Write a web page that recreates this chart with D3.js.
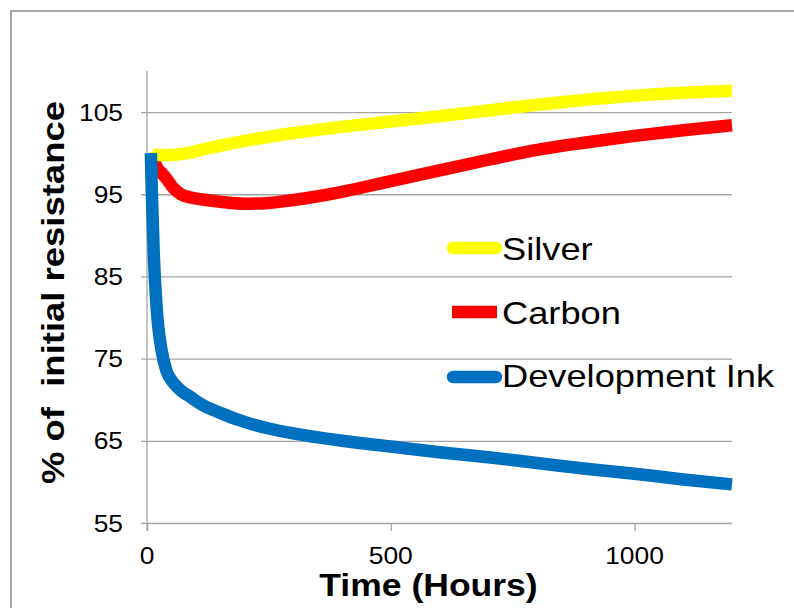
<!DOCTYPE html>
<html>
<head>
<meta charset="utf-8">
<script src="https://cdn.jsdelivr.net/npm/d3@7"></script>
<style>
  html, body { margin: 0; padding: 0; background: #fff; }
  svg { display: block; font-family: "Liberation Sans", Arial, sans-serif; }
</style>
</head>
<body>
<svg id="chart" width="794" height="608"></svg>
<script>
// Resistance drift over time, as % of the initial value
const hours       = [8, 10, 14, 20, 30, 40, 55, 70, 90, 110, 150, 200, 250, 300, 400, 500, 600, 700, 800, 900, 1000, 1100, 1200];
const silver      = [100.1, 100.0, 99.9, 99.8, 99.75, 99.75, 99.8, 99.9, 100.1, 100.4, 100.9, 101.5, 102.0, 102.45, 103.2, 103.85, 104.5, 105.2, 105.9, 106.5, 107.0, 107.35, 107.6];
const carbon      = [100.0, 99.7, 99.2, 98.3, 97.6, 96.9, 95.7, 95.0, 94.6, 94.4, 94.1, 93.85, 93.95, 94.3, 95.3, 96.6, 97.9, 99.2, 100.4, 101.3, 102.1, 102.8, 103.4];
const devInk      = [100.0, 95.0, 87.5, 81.0, 76.0, 73.5, 72.0, 71.1, 70.3, 69.5, 68.4, 67.3, 66.5, 65.9, 65.0, 64.3, 63.6, 63.0, 62.3, 61.6, 61.0, 60.3, 59.7];
const seriesNames = ["Silver", "Carbon", "Development Ink"];
const seriesColors = ["#FFFF00", "#FF0000", "#0070C0"];
const yTicks = [55, 65, 75, 85, 95, 105];
const xTicks = [0, 500, 1000];
const xTitle = "Time (Hours)";
const yTitle = "% of  initial resistance";

const svg = d3.select("#chart");
const W = 794, H = 608;

// outer frame of the chart area (runs off the right and bottom edges)
svg.append("rect")
  .attr("x", 11).attr("y", 11)
  .attr("width", W + 20).attr("height", H + 20)
  .attr("fill", "none").attr("stroke", "#8c8c8c").attr("stroke-width", 1.5);

const plot = { left: 147, top: 71, width: 585, height: 452 };
const x = d3.scaleLinear().domain([0, 1200]).range([0, plot.width]);
const y = d3.scaleLinear().domain([55, 110]).range([plot.height, 0]);

const g = svg.append("g").attr("transform", `translate(${plot.left},${plot.top})`);

// horizontal gridlines with short outward ticks
const yAxis = g.append("g").call(
  d3.axisLeft(y).tickValues(yTicks).tickSize(-plot.width).tickSizeOuter(0).tickFormat("")
);
yAxis.select(".domain").remove();
yAxis.selectAll(".tick line").attr("x1", -6).attr("stroke", "#a6a6a6").attr("stroke-width", 1.3);

// vertical axis line
g.append("line")
  .attr("x1", 0).attr("x2", 0).attr("y1", 0).attr("y2", plot.height + 8)
  .attr("stroke", "#a6a6a6").attr("stroke-width", 1.3);

// x tick marks
const xAxis = g.append("g").attr("transform", `translate(0,${plot.height})`).call(
  d3.axisBottom(x).tickValues(xTicks).tickSize(8).tickSizeOuter(0).tickFormat("")
);
xAxis.select(".domain").remove();
xAxis.selectAll(".tick line").attr("stroke", "#a6a6a6").attr("stroke-width", 1.3);

// helper: text stretched horizontally around its anchor
function stretchedText(parent, tx, ty, str, opts) {
  const wrap = parent.append("g")
    .attr("transform", `translate(${tx},${ty})${opts.rotate ? ` rotate(${opts.rotate})` : ""} scale(${opts.sx},1)`);
  return wrap.append("text")
    .attr("text-anchor", opts.anchor || "start")
    .attr("font-size", opts.size)
    .attr("font-weight", opts.weight || "normal")
    .attr("fill", "#000")
    .style("white-space", "pre")
    .attr("xml:space", "preserve")
    .text(str);
}

// y tick labels
yTicks.forEach(v => {
  stretchedText(g, -24, y(v) + 8.5, String(v), { size: 24, sx: 1.1, anchor: "end" });
});
// x tick labels
xTicks.forEach(v => {
  stretchedText(g, x(v), plot.height + 41, String(v), { size: 24, sx: 1.1, anchor: "middle" });
});

// axis titles
stretchedText(svg, 428.5, 596, xTitle, { size: 32, sx: 1.11, anchor: "middle", weight: "bold" });
stretchedText(svg, 64, 292.5, yTitle, { size: 32, sx: 1.14, anchor: "middle", weight: "bold", rotate: -90 });

// series lines: carbon underneath, then silver, development ink on top
const data = [silver, carbon, devInk];
const drawOrder = [1, 0, 2];
const line = d3.line()
  .x((d, i) => x(hours[i]))
  .y(d => y(d))
  .curve(d3.curveMonotoneX);

drawOrder.forEach(k => {
  g.append("path")
    .datum(data[k])
    .attr("d", line)
    .attr("fill", "none")
    .attr("stroke", seriesColors[k])
    .attr("stroke-width", 12.5)
    .attr("stroke-linejoin", "round")
    .attr("stroke-linecap", "butt");
});

// legend
const legendRows = [
  { y: 248, x1: 453, x2: 496, cap: "round", baseline: 260 },
  { y: 312, x1: 452, x2: 497, cap: "butt",  baseline: 324 },
  { y: 377, x1: 453, x2: 496, cap: "round", baseline: 387 }
];
legendRows.forEach((r, k) => {
  svg.append("line")
    .attr("x1", r.x1).attr("x2", r.x2).attr("y1", r.y).attr("y2", r.y)
    .attr("stroke", seriesColors[k]).attr("stroke-width", 12.5)
    .attr("stroke-linecap", r.cap);
  stretchedText(svg, 502, r.baseline, seriesNames[k], { size: 31, sx: 1.17 });
});
</script>
</body>
</html>
